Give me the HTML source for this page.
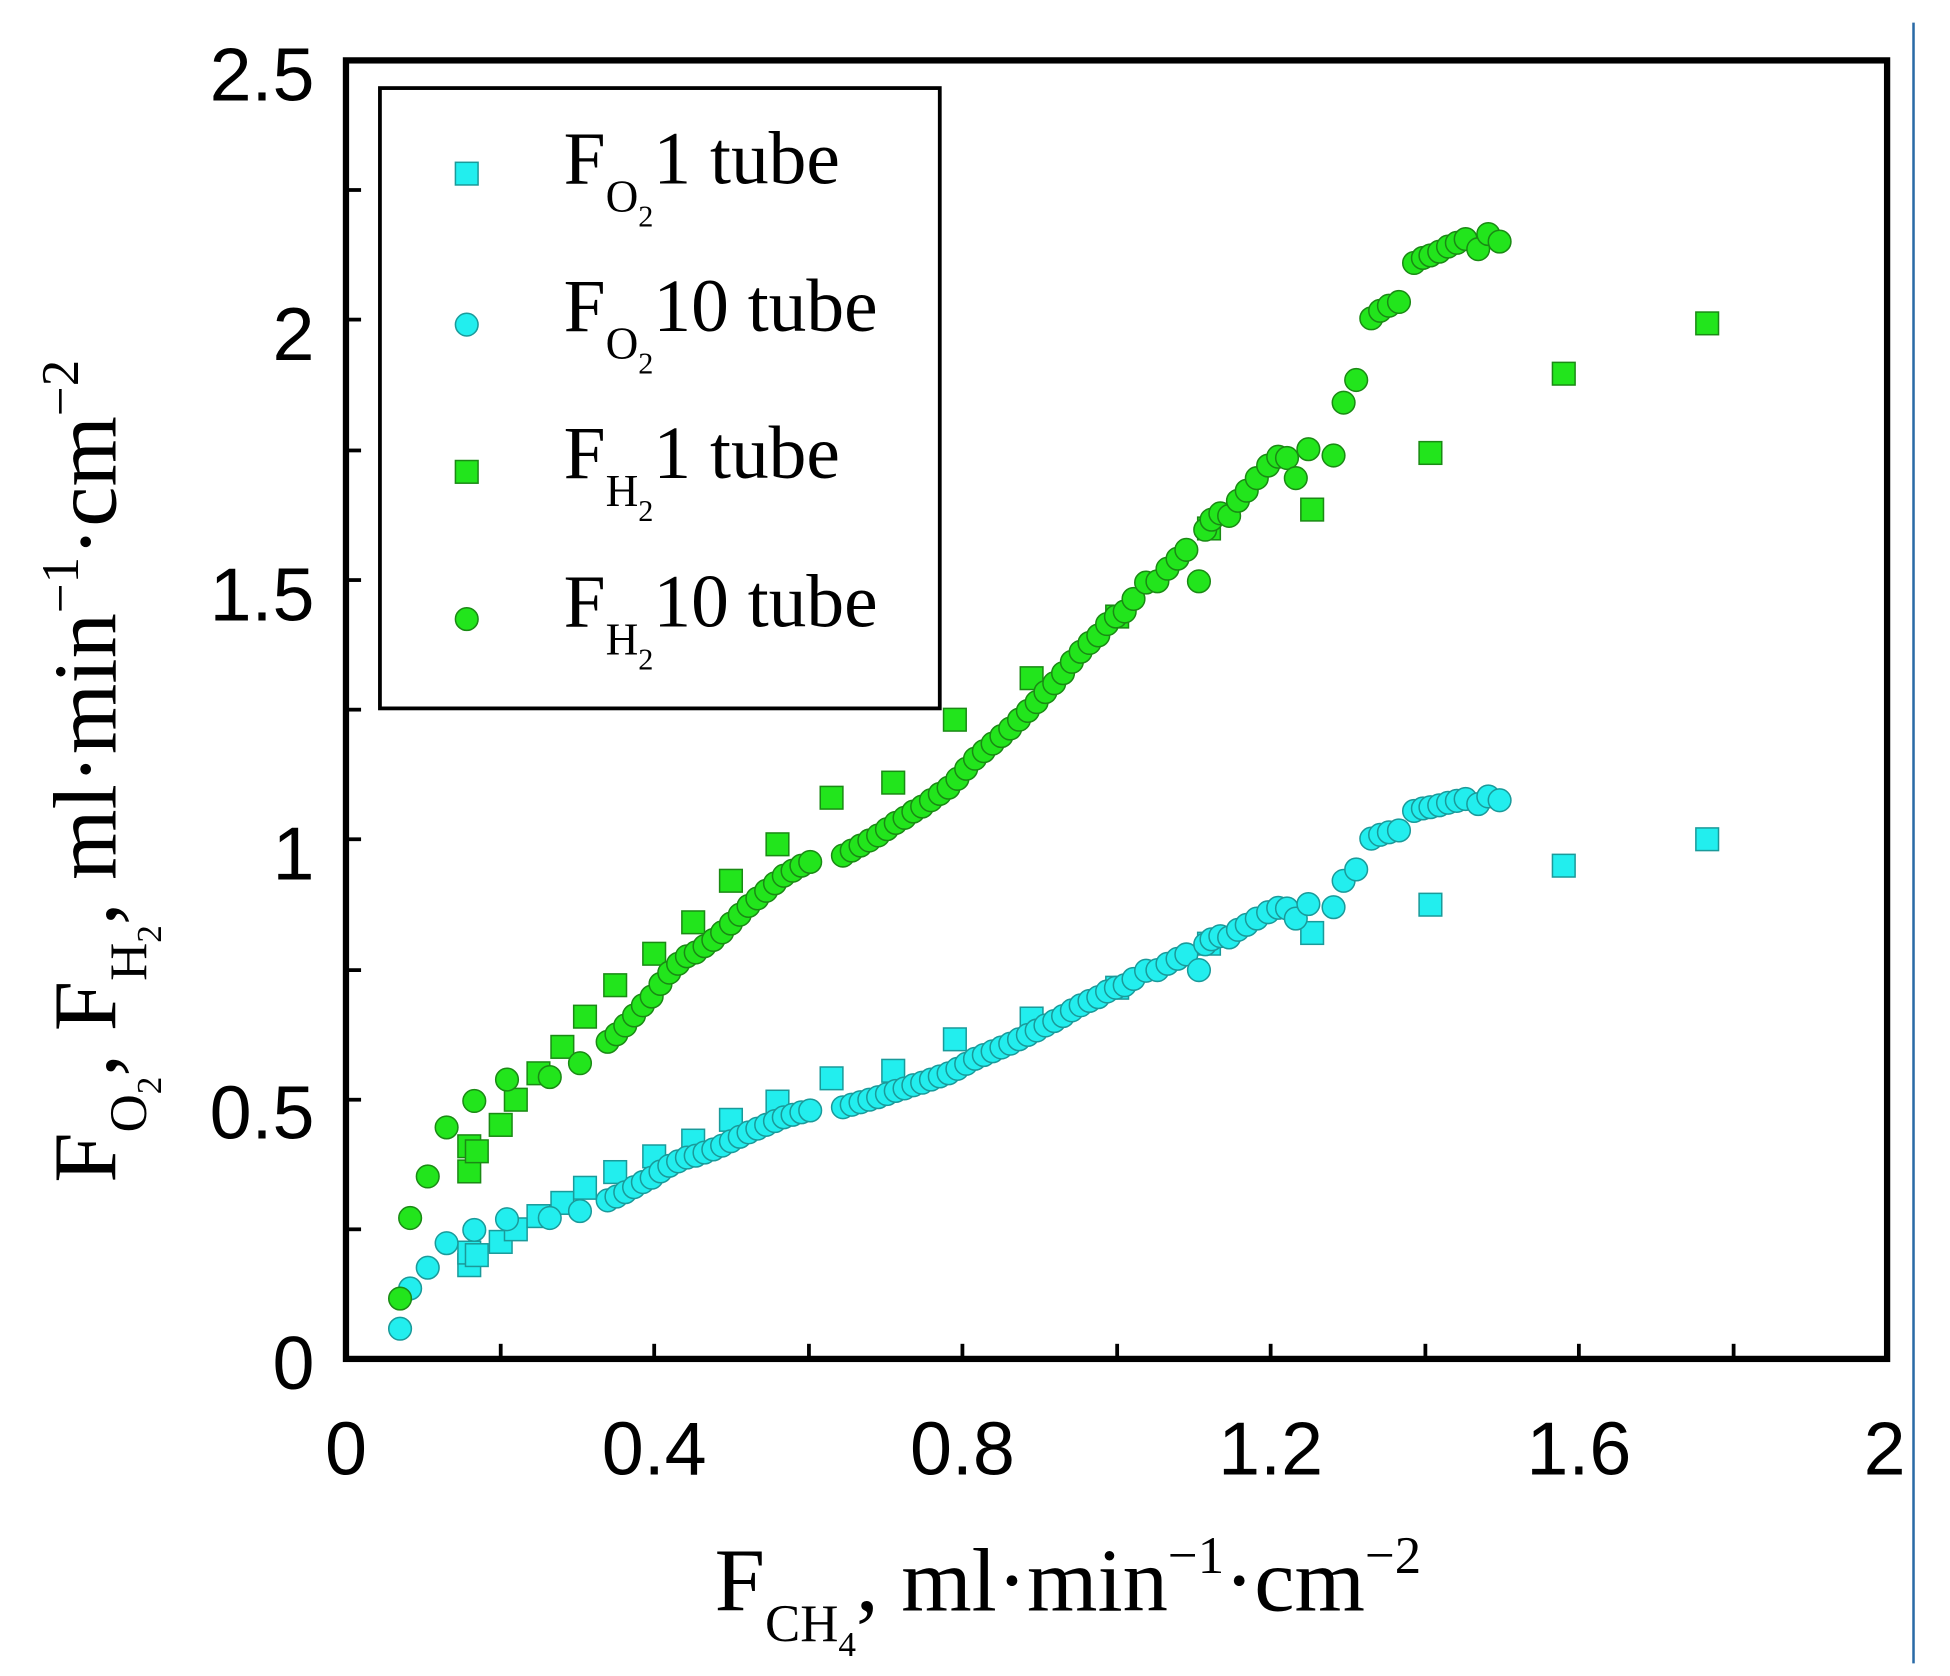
<!DOCTYPE html>
<html><head><meta charset="utf-8"><style>html,body{margin:0;padding:0;background:#fff}svg{display:block}</style></head>
<body>
<svg width="1950" height="1676" viewBox="0 0 1550 1332" preserveAspectRatio="none" xmlns="http://www.w3.org/2000/svg">
<rect width="1550" height="1332" fill="#fff"/>
<line x1="1521" y1="18" x2="1521" y2="1322" stroke="#2a6aa6" stroke-width="2"/>
<g stroke="#000" stroke-width="3">
<line x1="275" x2="287" y1="977" y2="977"/><line x1="275" x2="287" y1="874" y2="874"/><line x1="275" x2="287" y1="771" y2="771"/><line x1="275" x2="287" y1="667" y2="667"/><line x1="275" x2="287" y1="564" y2="564"/><line x1="275" x2="287" y1="461" y2="461"/><line x1="275" x2="287" y1="358" y2="358"/><line x1="275" x2="287" y1="254" y2="254"/><line x1="275" x2="287" y1="151" y2="151"/>
<line x1="398" x2="398" y1="1080" y2="1068"/><line x1="520" x2="520" y1="1080" y2="1068"/><line x1="643" x2="643" y1="1080" y2="1068"/><line x1="765" x2="765" y1="1080" y2="1068"/><line x1="888" x2="888" y1="1080" y2="1068"/><line x1="1010" x2="1010" y1="1080" y2="1068"/><line x1="1133" x2="1133" y1="1080" y2="1068"/><line x1="1255" x2="1255" y1="1080" y2="1068"/><line x1="1378" x2="1378" y1="1080" y2="1068"/>
</g>
<rect x="275" y="48" width="1225" height="1032" fill="none" stroke="#000" stroke-width="5"/>
<g font-family="Liberation Sans, sans-serif" font-size="60" fill="#000">
<text x="250" y="80" text-anchor="end">2.5</text>
<text x="250" y="286" text-anchor="end">2</text>
<text x="250" y="493" text-anchor="end">1.5</text>
<text x="250" y="699" text-anchor="end">1</text>
<text x="250" y="905" text-anchor="end">0.5</text>
<text x="250" y="1104" text-anchor="end">0</text>
<text x="275" y="1172" text-anchor="middle">0</text>
<text x="520" y="1172" text-anchor="middle">0.4</text>
<text x="765" y="1172" text-anchor="middle">0.8</text>
<text x="1010" y="1172" text-anchor="middle">1.2</text>
<text x="1255" y="1172" text-anchor="middle">1.6</text>
<text x="1498" y="1172" text-anchor="middle">2</text>
</g>
<g font-family="Liberation Serif, serif" fill="#000">
<text x="568" y="1280" font-size="72">F<tspan font-size="42" dy="24">CH</tspan><tspan font-size="28" dy="12">4</tspan><tspan dy="-36" font-size="72">, ml·min</tspan><tspan font-size="42" dy="-30">−1</tspan><tspan font-size="72" dy="30">·cm</tspan><tspan font-size="42" dy="-30">−2</tspan></text>
<text transform="translate(92,940) rotate(-90)" font-size="72">F<tspan font-size="42" dy="24">O</tspan><tspan font-size="28" dy="12">2</tspan><tspan dy="-36" font-size="72">, F</tspan><tspan font-size="42" dy="24">H</tspan><tspan font-size="28" dy="12">2</tspan><tspan dy="-36" font-size="72">, ml·min</tspan><tspan font-size="42" dy="-30">−1</tspan><tspan font-size="72" dy="30">·cm</tspan><tspan font-size="42" dy="-30">−2</tspan></text>
</g>
<rect x="302" y="70" width="445" height="493" fill="#fff" stroke="#000" stroke-width="3"/>
<g font-family="Liberation Serif, serif" font-size="60" fill="#000">
<text x="448" y="146">F<tspan font-size="36" dy="22">O</tspan><tspan font-size="24" dy="12">2</tspan><tspan dy="-34" font-size="60">1 tube</tspan></text>
<text x="448" y="263">F<tspan font-size="36" dy="22">O</tspan><tspan font-size="24" dy="12">2</tspan><tspan dy="-34" font-size="60">10 tube</tspan></text>
<text x="448" y="380">F<tspan font-size="36" dy="22">H</tspan><tspan font-size="24" dy="12">2</tspan><tspan dy="-34" font-size="60">1 tube</tspan></text>
<text x="448" y="498">F<tspan font-size="36" dy="22">H</tspan><tspan font-size="24" dy="12">2</tspan><tspan dy="-34" font-size="60">10 tube</tspan></text>
</g>
<!-- cyan squares -->
<g fill="#22eeee" stroke="#1a9a9a" stroke-width="1.2">
<rect x="362" y="129" width="18" height="18"/>
<rect x="364" y="996.5" width="18" height="18"/><rect x="364" y="986.5" width="18" height="18"/><rect x="370" y="988.5" width="18" height="18"/><rect x="389" y="978" width="18" height="18"/><rect x="401" y="968" width="18" height="18"/><rect x="419" y="957.5" width="18" height="18"/><rect x="438" y="947" width="18" height="18"/><rect x="456" y="935" width="18" height="18"/><rect x="480" y="922.5" width="18" height="18"/><rect x="511" y="910" width="18" height="18"/><rect x="542" y="897.5" width="18" height="18"/><rect x="572" y="881" width="18" height="18"/><rect x="609" y="866.5" width="18" height="18"/><rect x="652" y="848" width="18" height="18"/><rect x="701" y="842" width="18" height="18"/><rect x="750" y="817" width="18" height="18"/><rect x="811" y="800.5" width="18" height="18"/><rect x="879" y="776" width="18" height="18"/><rect x="952" y="741" width="18" height="18"/><rect x="1034" y="732.5" width="18" height="18"/><rect x="1128" y="710" width="18" height="18"/><rect x="1234" y="679" width="18" height="18"/><rect x="1348" y="658" width="18" height="18"/>
</g>
<!-- cyan circles -->
<g fill="#22eeee" stroke="#1a9a9a" stroke-width="1.2">
<circle cx="371" cy="258" r="9"/>
<circle cx="318" cy="1056" r="9"/><circle cx="326" cy="1024" r="9"/><circle cx="340" cy="1007.5" r="9"/><circle cx="355" cy="988" r="9"/><circle cx="377" cy="977.5" r="9"/><circle cx="403" cy="969" r="9"/><circle cx="437" cy="968" r="9"/><circle cx="461" cy="962.5" r="9"/>
<circle cx="483" cy="954" r="9"/><circle cx="490" cy="951" r="9"/><circle cx="497" cy="947.5" r="9"/><circle cx="504" cy="943.5" r="9"/><circle cx="511" cy="939.5" r="9"/><circle cx="518" cy="936" r="9"/><circle cx="525" cy="931" r="9"/><circle cx="532" cy="926.5" r="9"/><circle cx="539" cy="923" r="9"/><circle cx="546" cy="920" r="9"/><circle cx="553" cy="918.5" r="9"/><circle cx="560" cy="916" r="9"/><circle cx="567" cy="913.5" r="9"/><circle cx="574" cy="910.5" r="9"/><circle cx="581" cy="907" r="9"/><circle cx="588" cy="903.5" r="9"/><circle cx="595" cy="900" r="9"/><circle cx="602" cy="897" r="9"/><circle cx="609" cy="894" r="9"/><circle cx="616" cy="891" r="9"/><circle cx="623" cy="888" r="9"/><circle cx="630" cy="886" r="9"/><circle cx="637" cy="884" r="9"/><circle cx="644" cy="882.5" r="9"/>
<circle cx="670" cy="880" r="9"/><circle cx="677" cy="878" r="9"/><circle cx="684" cy="876" r="9"/><circle cx="691" cy="874" r="9"/><circle cx="698" cy="872" r="9"/><circle cx="705" cy="869.5" r="9"/><circle cx="712" cy="867" r="9"/><circle cx="719" cy="865" r="9"/><circle cx="726" cy="862.5" r="9"/><circle cx="733" cy="860.5" r="9"/><circle cx="740" cy="858" r="9"/><circle cx="747" cy="855.5" r="9"/><circle cx="754" cy="853" r="9"/><circle cx="761" cy="849.5" r="9"/><circle cx="768" cy="845.5" r="9"/><circle cx="775" cy="841.5" r="9"/><circle cx="782" cy="838.5" r="9"/><circle cx="789" cy="835.5" r="9"/><circle cx="796" cy="832.5" r="9"/><circle cx="803" cy="829.5" r="9"/><circle cx="810" cy="826" r="9"/><circle cx="817" cy="822.5" r="9"/><circle cx="824" cy="819" r="9"/><circle cx="831" cy="815" r="9"/><circle cx="838" cy="811.5" r="9"/><circle cx="845" cy="807.5" r="9"/><circle cx="852" cy="803" r="9"/><circle cx="859" cy="799" r="9"/><circle cx="866" cy="795.5" r="9"/><circle cx="873" cy="792.5" r="9"/><circle cx="880" cy="788" r="9"/><circle cx="887" cy="785" r="9"/><circle cx="894" cy="783" r="9"/><circle cx="901" cy="778" r="9"/><circle cx="911" cy="771.5" r="9"/><circle cx="920" cy="771" r="9"/><circle cx="928" cy="766" r="9"/><circle cx="936" cy="762" r="9"/><circle cx="943" cy="758.5" r="9"/><circle cx="953" cy="771" r="9"/><circle cx="958" cy="750.5" r="9"/><circle cx="963" cy="746.5" r="9"/><circle cx="970" cy="744" r="9"/><circle cx="977" cy="745" r="9"/><circle cx="984" cy="739" r="9"/><circle cx="991" cy="735" r="9"/><circle cx="999" cy="730" r="9"/><circle cx="1008" cy="725" r="9"/><circle cx="1016" cy="721.5" r="9"/><circle cx="1023" cy="722" r="9"/><circle cx="1030" cy="730" r="9"/><circle cx="1040" cy="718.5" r="9"/><circle cx="1060" cy="721" r="9"/><circle cx="1068" cy="700" r="9"/><circle cx="1078" cy="691" r="9"/><circle cx="1090" cy="666.5" r="9"/><circle cx="1097" cy="663.5" r="9"/><circle cx="1104" cy="661.5" r="9"/><circle cx="1112" cy="660" r="9"/><circle cx="1124" cy="644.5" r="9"/><circle cx="1131" cy="642.5" r="9"/><circle cx="1137" cy="641.5" r="9"/><circle cx="1144" cy="640" r="9"/><circle cx="1151" cy="638" r="9"/><circle cx="1158" cy="636.5" r="9"/><circle cx="1165" cy="635" r="9"/><circle cx="1175" cy="639" r="9"/><circle cx="1183" cy="633" r="9"/><circle cx="1192" cy="636" r="9"/>
</g>
<!-- green squares -->
<g fill="#22e51c" stroke="#1a8a14" stroke-width="1.2">
<rect x="362" y="366" width="18" height="18"/>
<rect x="364" y="922" width="18" height="18"/><rect x="364" y="902" width="18" height="18"/><rect x="370" y="906" width="18" height="18"/><rect x="389" y="885" width="18" height="18"/><rect x="401" y="865" width="18" height="18"/><rect x="419" y="844" width="18" height="18"/><rect x="438" y="823" width="18" height="18"/><rect x="456" y="799" width="18" height="18"/><rect x="480" y="774" width="18" height="18"/><rect x="511" y="749" width="18" height="18"/><rect x="542" y="724" width="18" height="18"/><rect x="572" y="691" width="18" height="18"/><rect x="609" y="662" width="18" height="18"/><rect x="652" y="625" width="18" height="18"/><rect x="701" y="613" width="18" height="18"/><rect x="750" y="563" width="18" height="18"/><rect x="811" y="530" width="18" height="18"/><rect x="879" y="481" width="18" height="18"/><rect x="952" y="411" width="18" height="18"/><rect x="1034" y="396" width="18" height="18"/><rect x="1128" y="351" width="18" height="18"/><rect x="1234" y="288" width="18" height="18"/><rect x="1348" y="248" width="18" height="18"/>
</g>
<!-- green circles -->
<g fill="#22e51c" stroke="#1a8a14" stroke-width="1.2">
<circle cx="371" cy="492" r="9"/>
<circle cx="318" cy="1032" r="9"/><circle cx="326" cy="968" r="9"/><circle cx="340" cy="935" r="9"/><circle cx="355" cy="896" r="9"/><circle cx="377" cy="875" r="9"/><circle cx="403" cy="858" r="9"/><circle cx="437" cy="856" r="9"/><circle cx="461" cy="845" r="9"/>
<circle cx="483" cy="828" r="9"/><circle cx="490" cy="822" r="9"/><circle cx="497" cy="815" r="9"/><circle cx="504" cy="807" r="9"/><circle cx="511" cy="799" r="9"/><circle cx="518" cy="792" r="9"/><circle cx="525" cy="782" r="9"/><circle cx="532" cy="773" r="9"/><circle cx="539" cy="766" r="9"/><circle cx="546" cy="760" r="9"/><circle cx="553" cy="757" r="9"/><circle cx="560" cy="752" r="9"/><circle cx="567" cy="747" r="9"/><circle cx="574" cy="741" r="9"/><circle cx="581" cy="734" r="9"/><circle cx="588" cy="727" r="9"/><circle cx="595" cy="720" r="9"/><circle cx="602" cy="714" r="9"/><circle cx="609" cy="708" r="9"/><circle cx="616" cy="702" r="9"/><circle cx="623" cy="696" r="9"/><circle cx="630" cy="692" r="9"/><circle cx="637" cy="688" r="9"/><circle cx="644" cy="685" r="9"/>
<circle cx="670" cy="680" r="9"/><circle cx="677" cy="676" r="9"/><circle cx="684" cy="672" r="9"/><circle cx="691" cy="668" r="9"/><circle cx="698" cy="664" r="9"/><circle cx="705" cy="659" r="9"/><circle cx="712" cy="654" r="9"/><circle cx="719" cy="650" r="9"/><circle cx="726" cy="645" r="9"/><circle cx="733" cy="641" r="9"/><circle cx="740" cy="636" r="9"/><circle cx="747" cy="631" r="9"/><circle cx="754" cy="626" r="9"/><circle cx="761" cy="619" r="9"/><circle cx="768" cy="611" r="9"/><circle cx="775" cy="603" r="9"/><circle cx="782" cy="597" r="9"/><circle cx="789" cy="591" r="9"/><circle cx="796" cy="585" r="9"/><circle cx="803" cy="579" r="9"/><circle cx="810" cy="572" r="9"/><circle cx="817" cy="565" r="9"/><circle cx="824" cy="558" r="9"/><circle cx="831" cy="550" r="9"/><circle cx="838" cy="543" r="9"/><circle cx="845" cy="535" r="9"/><circle cx="852" cy="526" r="9"/><circle cx="859" cy="518" r="9"/><circle cx="866" cy="511" r="9"/><circle cx="873" cy="505" r="9"/><circle cx="880" cy="496" r="9"/><circle cx="887" cy="490" r="9"/><circle cx="894" cy="486" r="9"/><circle cx="901" cy="476" r="9"/><circle cx="911" cy="463" r="9"/><circle cx="920" cy="462" r="9"/><circle cx="928" cy="452" r="9"/><circle cx="936" cy="444" r="9"/><circle cx="943" cy="437" r="9"/><circle cx="953" cy="462" r="9"/><circle cx="958" cy="421" r="9"/><circle cx="963" cy="413" r="9"/><circle cx="970" cy="408" r="9"/><circle cx="977" cy="410" r="9"/><circle cx="984" cy="398" r="9"/><circle cx="991" cy="390" r="9"/><circle cx="999" cy="380" r="9"/><circle cx="1008" cy="370" r="9"/><circle cx="1016" cy="363" r="9"/><circle cx="1023" cy="364" r="9"/><circle cx="1030" cy="380" r="9"/><circle cx="1040" cy="357" r="9"/><circle cx="1060" cy="362" r="9"/><circle cx="1068" cy="320" r="9"/><circle cx="1078" cy="302" r="9"/><circle cx="1090" cy="253" r="9"/><circle cx="1097" cy="247" r="9"/><circle cx="1104" cy="243" r="9"/><circle cx="1112" cy="240" r="9"/><circle cx="1124" cy="209" r="9"/><circle cx="1131" cy="205" r="9"/><circle cx="1137" cy="203" r="9"/><circle cx="1144" cy="200" r="9"/><circle cx="1151" cy="196" r="9"/><circle cx="1158" cy="193" r="9"/><circle cx="1165" cy="190" r="9"/><circle cx="1175" cy="198" r="9"/><circle cx="1183" cy="186" r="9"/><circle cx="1192" cy="192" r="9"/>
</g>
</svg>
</body></html>
